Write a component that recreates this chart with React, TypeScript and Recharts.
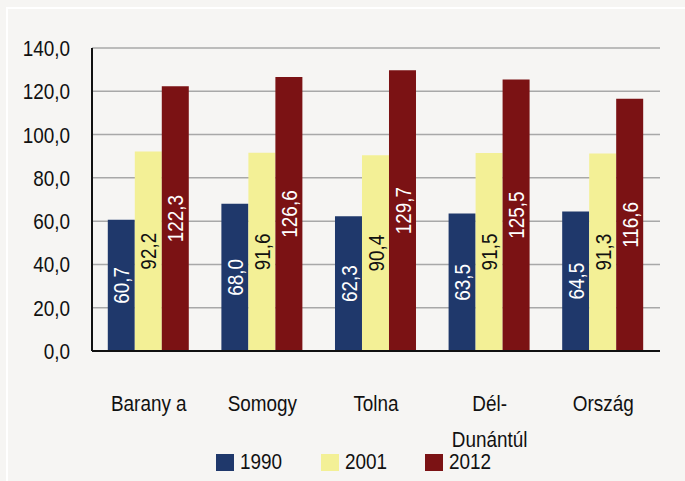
import { Bar, BarChart, CartesianGrid, LabelList, XAxis, YAxis } from 'recharts'

const categories = ['Barany a', 'Somogy', 'Tolna', 'Dél-Dunántúl', 'Ország']
const values1990 = [60.7, 68.0, 62.3, 63.5, 64.5]
const values2001 = [92.2, 91.6, 90.4, 91.5, 91.3]
const values2012 = [122.3, 126.6, 129.7, 125.5, 116.6]
const yTicks = [0, 20, 40, 60, 80, 100, 120, 140]

const SERIES = [
  { key: 'y1990', name: '1990', fill: '#1f386b', label: '#ffffff' },
  { key: 'y2001', name: '2001', fill: '#f3f096', label: '#111111' },
  { key: 'y2012', name: '2012', fill: '#7b1214', label: '#ffffff' },
]

// no narrow font installed, so squeeze Liberation Sans horizontally
const FONT = '"Liberation Sans", Arial, sans-serif'
const SQUEEZE = 0.86
const BG = '#f6f5f3'

const data = categories.map((name, i) => ({
  name,
  y1990: values1990[i],
  y2001: values2001[i],
  y2012: values2012[i],
}))

function formatHu(value: number): string {
  return value.toFixed(1).replace('.', ',')
}

function NarrowText({ x, y, anchor, children, fill = '#111', rotate = 0, baseline }: any) {
  return (
    <text
      transform={`translate(${x} ${y}) rotate(${rotate}) scale(${SQUEEZE} 1)`}
      textAnchor={anchor}
      dominantBaseline={baseline}
      fontSize={22}
      fill={fill}
      fontFamily={FONT}
    >
      {children}
    </text>
  )
}

function CategoryTick(props: any) {
  const { x, y, payload } = props
  const text: string = payload.value
  const hyphen = text.indexOf('-')
  const lines = hyphen >= 0 ? [text.slice(0, hyphen + 1), text.slice(hyphen + 1)] : [text]
  return (
    <g>
      {lines.map((line, i) => (
        <NarrowText key={i} x={x} y={y + 52 + i * 36} anchor="middle">
          {line}
        </NarrowText>
      ))}
    </g>
  )
}

function ValueTick(props: any) {
  const { x, y, payload } = props
  return (
    <NarrowText x={x} y={y} anchor="end" baseline="central">
      {formatHu(Number(payload.value))}
    </NarrowText>
  )
}

function makeBarLabel(color: string) {
  return (props: any) => {
    const { x, y, width, height, value } = props
    const cx = Number(x) + Number(width) / 2
    const cy = Number(y) + Number(height) / 2
    return (
      <NarrowText x={cx} y={cy} rotate={-90} anchor="middle" baseline="central" fill={color}>
        {formatHu(Number(value))}
      </NarrowText>
    )
  }
}

function LegendBox() {
  return (
    <div style={{ position: 'absolute', left: 216, top: 452, display: 'flex', fontFamily: FONT, fontSize: 22, color: '#111' }}>
      {SERIES.map(s => (
        <div key={s.key} style={{ display: 'flex', alignItems: 'center', width: 104.5, height: 20 }}>
          <span style={{ display: 'inline-block', width: 18, height: 17, background: s.fill, marginRight: 6 }} />
          <span style={{ display: 'inline-block', lineHeight: '20px', transform: `scaleX(${SQUEEZE})`, transformOrigin: 'left center' }}>
            {s.name}
          </span>
        </div>
      ))}
    </div>
  )
}

export default function App() {
  return (
    <div style={{ position: 'absolute', left: 0, top: 0, width: 685, height: 481, background: BG, overflow: 'hidden' }}>
      <div
        style={{
          position: 'absolute',
          left: 6,
          top: 7,
          width: 700,
          height: 500,
          borderTop: '2px solid #ffffff',
          borderLeft: '2px solid #ffffff',
        }}
      />
      <div style={{ position: 'absolute', left: 0, top: 0 }}>
        <BarChart
          width={685}
          height={481}
          data={data}
          margin={{ top: 48, right: 25, bottom: 0, left: 0 }}
          barGap={0}
          barCategoryGap="13.9%"
        >
          <CartesianGrid vertical={false} stroke="#a8a8a8" strokeWidth={1.5} />
          <XAxis
            dataKey="name"
            axisLine={{ stroke: '#111', strokeWidth: 2 }}
            tickLine={false}
            tick={<CategoryTick />}
            interval={0}
            height={130}
          />
          <XAxis xAxisId="top" dataKey="name" orientation="top" axisLine={{ stroke: '#333', strokeWidth: 2 }} tick={false} tickLine={false} height={0} />
          <YAxis
            domain={[0, 140]}
            ticks={yTicks}
            axisLine={{ stroke: '#111', strokeWidth: 2 }}
            tickLine={false}
            tickSize={0}
            tickMargin={22}
            width={92}
            tick={<ValueTick />}
            interval={0}
          />
          <YAxis yAxisId="right" orientation="right" domain={[0, 140]} axisLine={{ stroke: '#333', strokeWidth: 2 }} tick={false} tickLine={false} width={0} />
          {SERIES.map(s => (
            <Bar key={s.key} dataKey={s.key} name={s.name} fill={s.fill} isAnimationActive={false}>
              <LabelList dataKey={s.key} content={makeBarLabel(s.label)} />
            </Bar>
          ))}
        </BarChart>
      </div>
      <LegendBox />
    </div>
  )
}
